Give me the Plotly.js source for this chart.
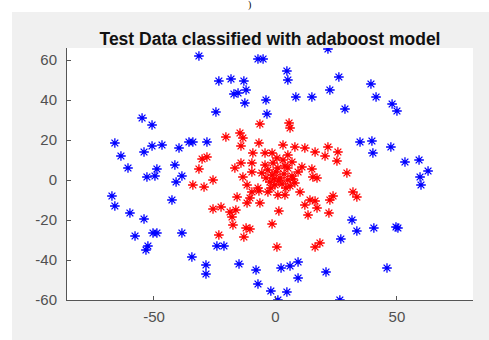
<!DOCTYPE html>
<html>
<head>
<meta charset="utf-8">
<script src="https://cdn.plot.ly/plotly-3.0.1.min.js"></script>
<style>
  html, body { margin: 0; padding: 0; background: #ffffff; width: 489px; height: 340px; overflow: hidden; }
  #chart { position: absolute; left: 12px; top: 12px; width: 477px; height: 328px; }
  #frag { position: absolute; left: 248px; top: 0px; font-family: "Liberation Serif", serif; font-size: 10px; line-height: 10px; color: #000; }
</style>
</head>
<body>
<span id="frag">)</span>
<div id="chart"></div>
<script>
// Blue class (outer ring)
const blueX = [-31.5,-23.3,-18.3,-13.0,-17.1,-15.4,-12.1,-12.6,-24.5,-7.2,-5.1,-3.9,-3.5,4.7,5.1,8.4,15.0,21.6,22.4,26.1,28.6,39.3,41.4,48.0,50.0,-54.9,-50.8,
  -66.1,-63.6,-60.7,-54.1,-50.8,-46.7,-39.7,-35.6,-34.0,-28.2,-48.8,-52.9,-49.6,-41.4,-38.5,-40.9,-67.3,-66.1,-42.6,-59.9,-54.1,
  -57.8,-50.4,-48.8,-38.5,-52.5,-53.3,-34.4,-24.1,-21.2,-28.6,-28.6,-15.0,-8.0,-7.2,-1.9,1.0,2.3,6.0,9.3,9.3,4.7,20.8,26.5,26.9,31.5,33.5,40.5,49.6,50.4,45.9,
  34.8,39.7,40.1,47.5,53.3,59.1,62.8,59.5,59.9];
const blueY = [62,49.5,50.5,49.5,43,43.5,45,38.5,34,60.5,60.5,40,33,54.5,50,41.5,41.5,65.5,45,51.5,35.5,48,41.5,38,34.5,31,27.5,
  18.5,12,6,14,17,17.5,16,19,19,19,5.5,1.5,2,7.5,2,-1,-8,-13,-10,-16.5,-19.5,
  -28,-26.5,-26.5,-26.5,-33,-35,-38.5,-33,-33,-42.5,-47,-42,-45,-52,-55.5,-60,-44,-43,-41,-49,-56,-46,-60,-29.5,-20,-25.5,-24,-23.5,-24,-44,
  19,19.5,13.5,16.5,9,10,4.5,1.5,-2.5];

// Red class (inner cluster)
const redX = [-20.4,-14.6,-13.4,-14.2,-6.4,5.6,6.0,-6.8,3.1,8.0,12.1,16.3,21.6,20.4,25.7,25.3,-4.3,-1.4,-9.3,5.1,-1.0,-9.7,-14.2,-16.7,
  -30.2,-28.2,-31.5,-25.7,-34.0,-29.4,-13.4,-9.7,-5.6,5.1,10.9,15.0,15.4,17.1,29.4,-11.7,-7.2,-9.7,-6.8,-10.5,-15.8,1.0,10.1,14.2,16.3,22.4,23.7,31.9,33.5,
  7.2,12.1,17.1,22.0,13.4,18.3,16.3,-11.7,-6.4,1.4,-1.4,0.6,-12.1,-10.5,-13.0,-17.5,-23.3,-25.7,-22.4,-18.7,-16.3,-17.9,
  -3.1,-1.4,0.2,1.9,3.5,5.1,-2.3,-0.2,2.7,6.0,1.0,3.9,-3.9,6.8,-0.6,1.4,4.3,-1.9,8.0,-4.3,3.1,0.6,6.8,9.3,-3.1,3.9];
const redY = [21.5,23.5,21,17,28,28.5,26,18.5,17.5,16.5,16,14,16.5,12,14,9.5,13.5,13.5,13.5,12.5,8.5,8.5,8.5,6,
  10.5,11.5,5.5,0,-2.5,-3.5,1.5,4,3.5,6,6.5,5.5,1.5,1,3.5,-2.5,-4,-6,-5.5,-9,-8.5,-7.5,-6,-10,-10.5,-10,-8,-6,-8.5,
  0.5,-12.5,-14,-16.5,-17.5,-31.5,-33.5,-11.5,-11.5,-15.5,-22,-33.5,-24,-24.5,-28.5,-22.5,-27.5,-14.5,-13.5,-16,-15,-18.5,
  5,2.5,4,1,3,0,-1,-2.5,-2,-3,6,7,1,2,0.5,-0.5,-4,-4,-1.5,7.5,10,11,9,4,-6,-7.5];

const titleText = 'Test Data classified with adaboost model';
const xTicks = [-50, 0, 50];
const yTicks = [-60, -40, -20, 0, 20, 40, 60];

const markerBase = { symbol: 'asterisk-open', size: 8 };
const traces = [
  { x: blueX, y: blueY, type: 'scatter', mode: 'markers', name: 'class 1',
    marker: Object.assign({}, markerBase, { color: '#0000ff', line: { color: '#1010ee', width: 1.3 } }) },
  { x: redX, y: redY, type: 'scatter', mode: 'markers', name: 'class 2',
    marker: Object.assign({}, markerBase, { color: '#ff0000', line: { color: '#ee1010', width: 1.3 } }) }
];

const axisCommon = {
  showgrid: false, zeroline: false, showline: true, linecolor: '#555555', linewidth: 1,
  ticks: 'inside', ticklen: 4, tickcolor: '#555555', mirror: false,
  tickfont: { family: 'Liberation Sans, Arial, sans-serif', size: 15, color: '#505050' }
};

const layout = {
  width: 477, height: 328,
  margin: { l: 55, r: 16, t: 36, b: 40, pad: 0 },
  paper_bgcolor: '#f0f0f0', plot_bgcolor: '#ffffff',
  showlegend: false,
  title: { text: '<b>' + titleText + '</b>', x: 0.5, xanchor: 'center', xref: 'paper', y: 1, yref: 'paper', yanchor: 'bottom', pad: { b: 3 },
    font: { family: 'Liberation Sans, Arial, sans-serif', size: 17.5, color: '#111111' } },
  xaxis: Object.assign({}, axisCommon, { range: [-85.8, 81.3], tickvals: xTicks, ticktext: xTicks.map(String), ticklabelstandoff: 3 }),
  yaxis: Object.assign({}, axisCommon, { range: [-60, 66], tickvals: yTicks, ticktext: yTicks.map(String), ticklabelstandoff: 6 })
};

Plotly.newPlot('chart', traces, layout, { displayModeBar: false, staticPlot: true });
</script>
</body>
</html>
